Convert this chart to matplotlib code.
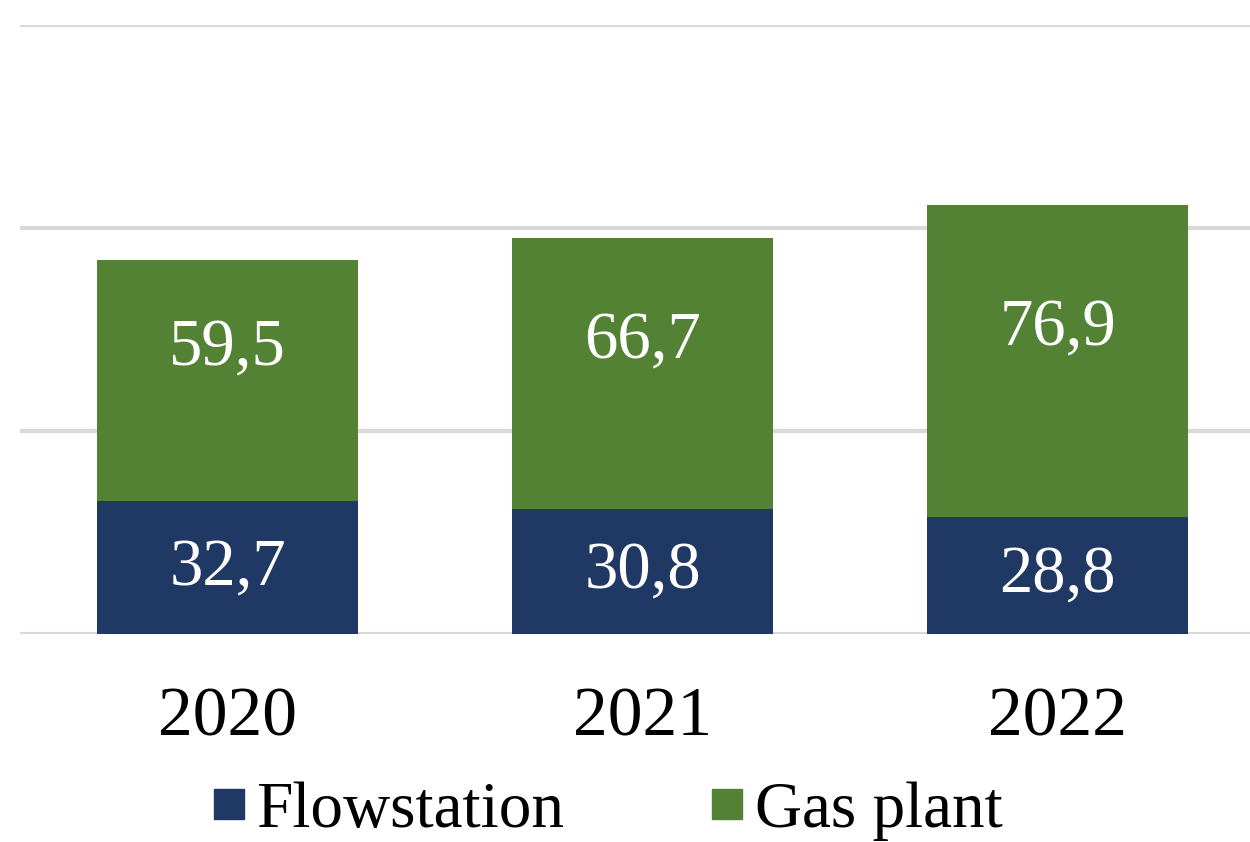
import numpy as np
import matplotlib.pyplot as plt
from matplotlib.lines import Line2D

# 数据
years = ['2020', '2021', '2022']
flowstation = [32.7, 30.8, 28.8]
gas_plant = [59.5, 66.7, 76.9]
series_names = ['Flowstation', 'Gas plant']
colors = ['#203864', '#548235']

plt.rcParams['font.family'] = ['Liberation Serif', 'DejaVu Serif']

fig = plt.figure(figsize=(12.5, 8.42), dpi=100)
# 坐标轴右侧超出画布（原图被裁切）
ax = fig.add_axes([20 / 1250, (842 - 634) / 842, 1245 / 1250, 609 / 842])

x = np.arange(len(years))
w = 0.627
flow = np.array(flowstation)
gas = np.array(gas_plant)
ax.bar(x, flow, width=w, color=colors[0], zorder=3)
ax.bar(x, gas, width=w, bottom=flow, color=colors[1], zorder=3)

# 数据标签
for i in range(len(years)):
    ax.text(x[i], flow[i] / 2, f'{flow[i]:.1f}'.replace('.', ','),
            ha='center', va='center', color='white', fontsize=48, zorder=4)
    ax.text(x[i], flow[i] + gas[i] / 2 + 8, f'{gas[i]:.1f}'.replace('.', ','),
            ha='center', va='center', color='white', fontsize=48, zorder=4)

ax.set_xlim(-0.5, 2.5)
ax.set_ylim(0, 150)
ax.set_yticks([0, 50, 100, 150])
ax.yaxis.grid(True, color='#d9d9d9', linewidth=3, zorder=0)
ax.set_yticklabels([])
ax.tick_params(axis='y', length=0)
ax.tick_params(axis='x', length=0, pad=38, labelsize=50)
ax.set_xticks(x)
ax.set_xticklabels(years)
for s in ax.spines.values():
    s.set_visible(False)

handles = [Line2D([], [], marker='s', linestyle='none', markersize=22,
                  color=c) for c in colors]
fig.legend(handles, series_names, loc='center', bbox_to_anchor=(0.482, 0.037),
           ncol=2, frameon=False, fontsize=47, handletextpad=0.02,
           columnspacing=2.1, handlelength=0.8)

plt.savefig('out.png', dpi=100)
